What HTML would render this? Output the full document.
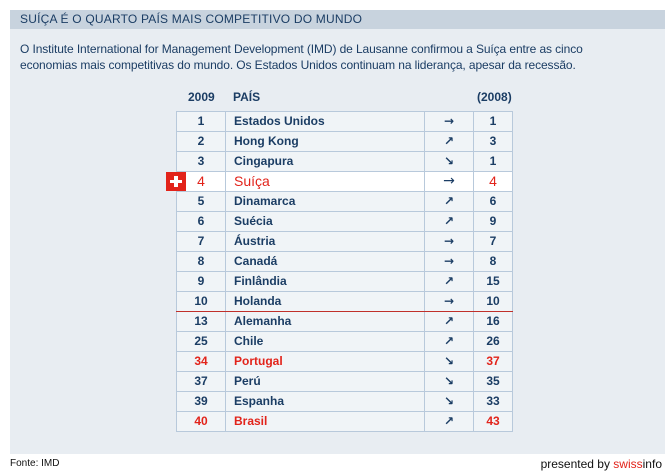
<html><head><style>
body{margin:0;width:670px;height:475px;background:#fff;font-family:"Liberation Sans",sans-serif;position:relative;overflow:hidden}
.panel{position:absolute;left:10px;top:10px;width:655px;height:444px;background:#e8edf2}
.hdr{position:absolute;left:10px;top:10px;width:655px;height:19px;background:#c8d3de;color:#1b3d64;font-size:12px;line-height:19px;padding-left:10px;box-sizing:border-box;letter-spacing:0.2px}
.intro{position:absolute;left:20px;top:41px;color:#1b3d64;font-size:12px;line-height:16px;width:585px;letter-spacing:-0.1px}
table{position:absolute;left:176px;top:111px;border-collapse:collapse;color:#1b3d64;font-size:12px;font-weight:bold}
td{height:19px;border:1px solid #b8c9db;background:#f0f4f7;padding:0;line-height:19px}
td.r{width:48px;text-align:center}td.n{width:190px;padding-left:8px}td.a{width:48px;text-align:center;font-size:12px;font-family:"DejaVu Sans",sans-serif;font-weight:bold;color:#1b3d64!important}td.p{width:38px;text-align:center}
tr.sw td{background:#fff;color:#e2231a;font-weight:normal;font-size:14px}
tr.red td{color:#e2231a}
tr.line td{border-bottom:1px solid #c0302a}
.th{position:absolute;top:90px;color:#1b3d64;font-size:12px;font-weight:bold}
.flag{position:absolute;left:166px;top:172px;width:20px;height:19px;background:#e2231a}
.flag:before{content:"";position:absolute;left:8px;top:4px;width:4px;height:11px;background:#fff}
.flag:after{content:"";position:absolute;left:4px;top:8px;width:12px;height:3px;background:#fff}
.f{position:absolute;top:458px;font-size:10px;color:#111}
</style></head><body>
<div class="panel"></div>
<div class="hdr">SUÍÇA É O QUARTO PAÍS MAIS COMPETITIVO DO MUNDO</div>
<div class="intro">O Institute International for Management Development (IMD) de Lausanne confirmou a Suíça entre as cinco economias mais competitivas do mundo. Os Estados Unidos continuam na liderança, apesar da recessão.</div>
<div class="th" style="left:188px">2009</div><div class="th" style="left:233px">PAÍS</div><div class="th" style="left:477px">(2008)</div>
<table>
<tr><td class="r">1</td><td class="n">Estados Unidos</td><td class="a">→</td><td class="p">1</td></tr>
<tr><td class="r">2</td><td class="n">Hong Kong</td><td class="a">↗</td><td class="p">3</td></tr>
<tr><td class="r">3</td><td class="n">Cingapura</td><td class="a">↘</td><td class="p">1</td></tr>
<tr class="sw"><td class="r">4</td><td class="n">Suíça</td><td class="a">→</td><td class="p">4</td></tr>
<tr><td class="r">5</td><td class="n">Dinamarca</td><td class="a">↗</td><td class="p">6</td></tr>
<tr><td class="r">6</td><td class="n">Suécia</td><td class="a">↗</td><td class="p">9</td></tr>
<tr><td class="r">7</td><td class="n">Áustria</td><td class="a">→</td><td class="p">7</td></tr>
<tr><td class="r">8</td><td class="n">Canadá</td><td class="a">→</td><td class="p">8</td></tr>
<tr><td class="r">9</td><td class="n">Finlândia</td><td class="a">↗</td><td class="p">15</td></tr>
<tr class="line"><td class="r">10</td><td class="n">Holanda</td><td class="a">→</td><td class="p">10</td></tr>
<tr><td class="r">13</td><td class="n">Alemanha</td><td class="a">↗</td><td class="p">16</td></tr>
<tr><td class="r">25</td><td class="n">Chile</td><td class="a">↗</td><td class="p">26</td></tr>
<tr class="red"><td class="r">34</td><td class="n">Portugal</td><td class="a">↘</td><td class="p">37</td></tr>
<tr><td class="r">37</td><td class="n">Perú</td><td class="a">↘</td><td class="p">35</td></tr>
<tr><td class="r">39</td><td class="n">Espanha</td><td class="a">↘</td><td class="p">33</td></tr>
<tr class="red"><td class="r">40</td><td class="n">Brasil</td><td class="a">↗</td><td class="p">43</td></tr>
</table>
<div class="flag"></div>
<div class="f" style="left:10px">Fonte: IMD</div>
<div class="f" style="right:8px;font-size:12px;top:457px">presented by <span style="color:#e2231a">swiss</span>info</div>
</body></html>
